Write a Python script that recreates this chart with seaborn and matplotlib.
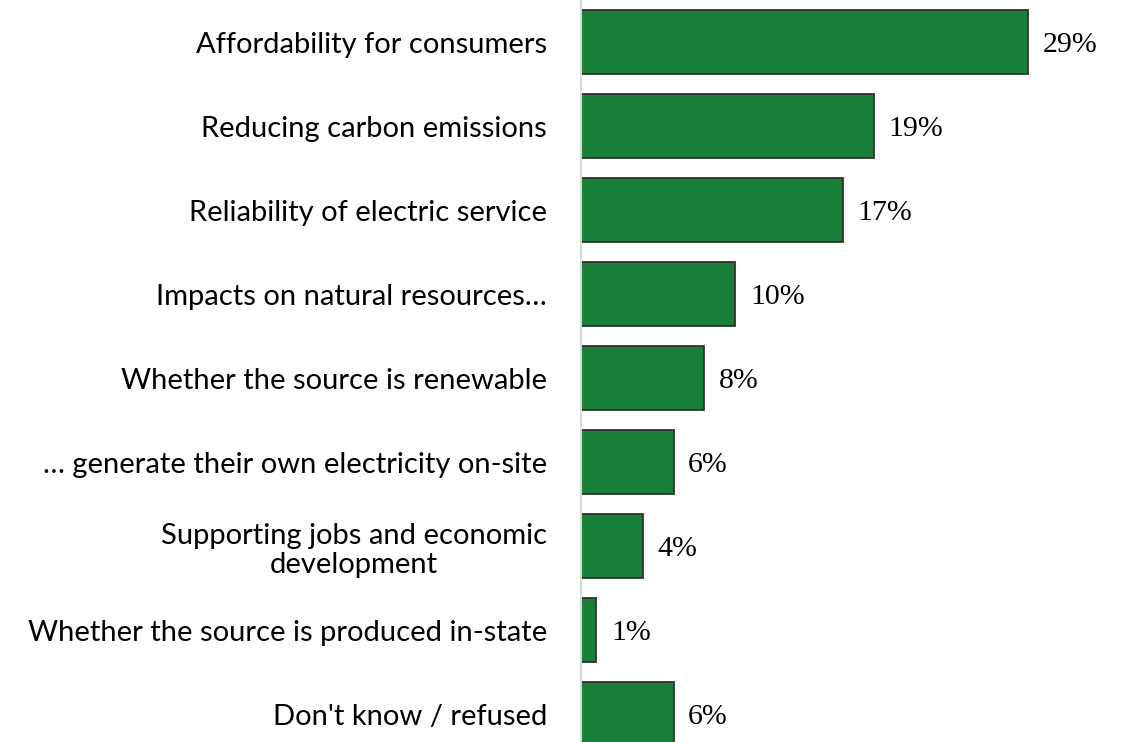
import pandas as pd
import matplotlib.pyplot as plt
import seaborn as sns

# Dados
categories = [
    "Affordability for consumers",
    "Reducing carbon emissions",
    "Reliability of electric service",
    "Impacts on natural resources…",
    "Whether the source is renewable",
    "… generate their own electricity on-site",
    "Supporting jobs and economic\ndevelopment",
    "Whether the source is produced in-state",
    "Don't know / refused",
]
values = [29, 19, 17, 10, 8, 6, 4, 1, 6]
value_labels = ["29%", "19%", "17%", "10%", "8%", "6%", "4%", "1%", "6%"]

df = pd.DataFrame({"Category": categories, "Value": values})

sns.set_style("white")
fig = plt.figure(figsize=(11.27, 7.42), dpi=100)
ax = fig.add_axes([581 / 1127, 0, 1 - 581 / 1127, 1])

sns.barplot(data=df, x="Value", y="Category", color="#177F37", saturation=1,
            edgecolor="#333333", linewidth=1.3, width=0.76, ax=ax)

for i, (v, lab) in enumerate(zip(values, value_labels)):
    ax.text(v + 0.95, i + 0.03, lab, va="center", ha="left", fontsize=21.5,
            family="Liberation Serif", color="black")

ax.set_xlim(0, 35.4)
ax.set_ylim(8.333, -0.5)
ax.set_xlabel("")
ax.set_ylabel("")
ax.set_xticks([])
ax.tick_params(axis="y", length=0, pad=24.5)
for lab in ax.get_yticklabels():
    lab.set_fontfamily("Lato")
    lab.set_fontsize(21)
    lab.set_color("black")
    lab.set_horizontalalignment("right")
    lab.set_multialignment("center")
    lab.set_linespacing(1.15)

for s in ["top", "right", "bottom"]:
    ax.spines[s].set_visible(False)
ax.spines["left"].set_color("#d9d9d9")
ax.spines["left"].set_linewidth(1.5)

fig.savefig("out.png", dpi=100)
